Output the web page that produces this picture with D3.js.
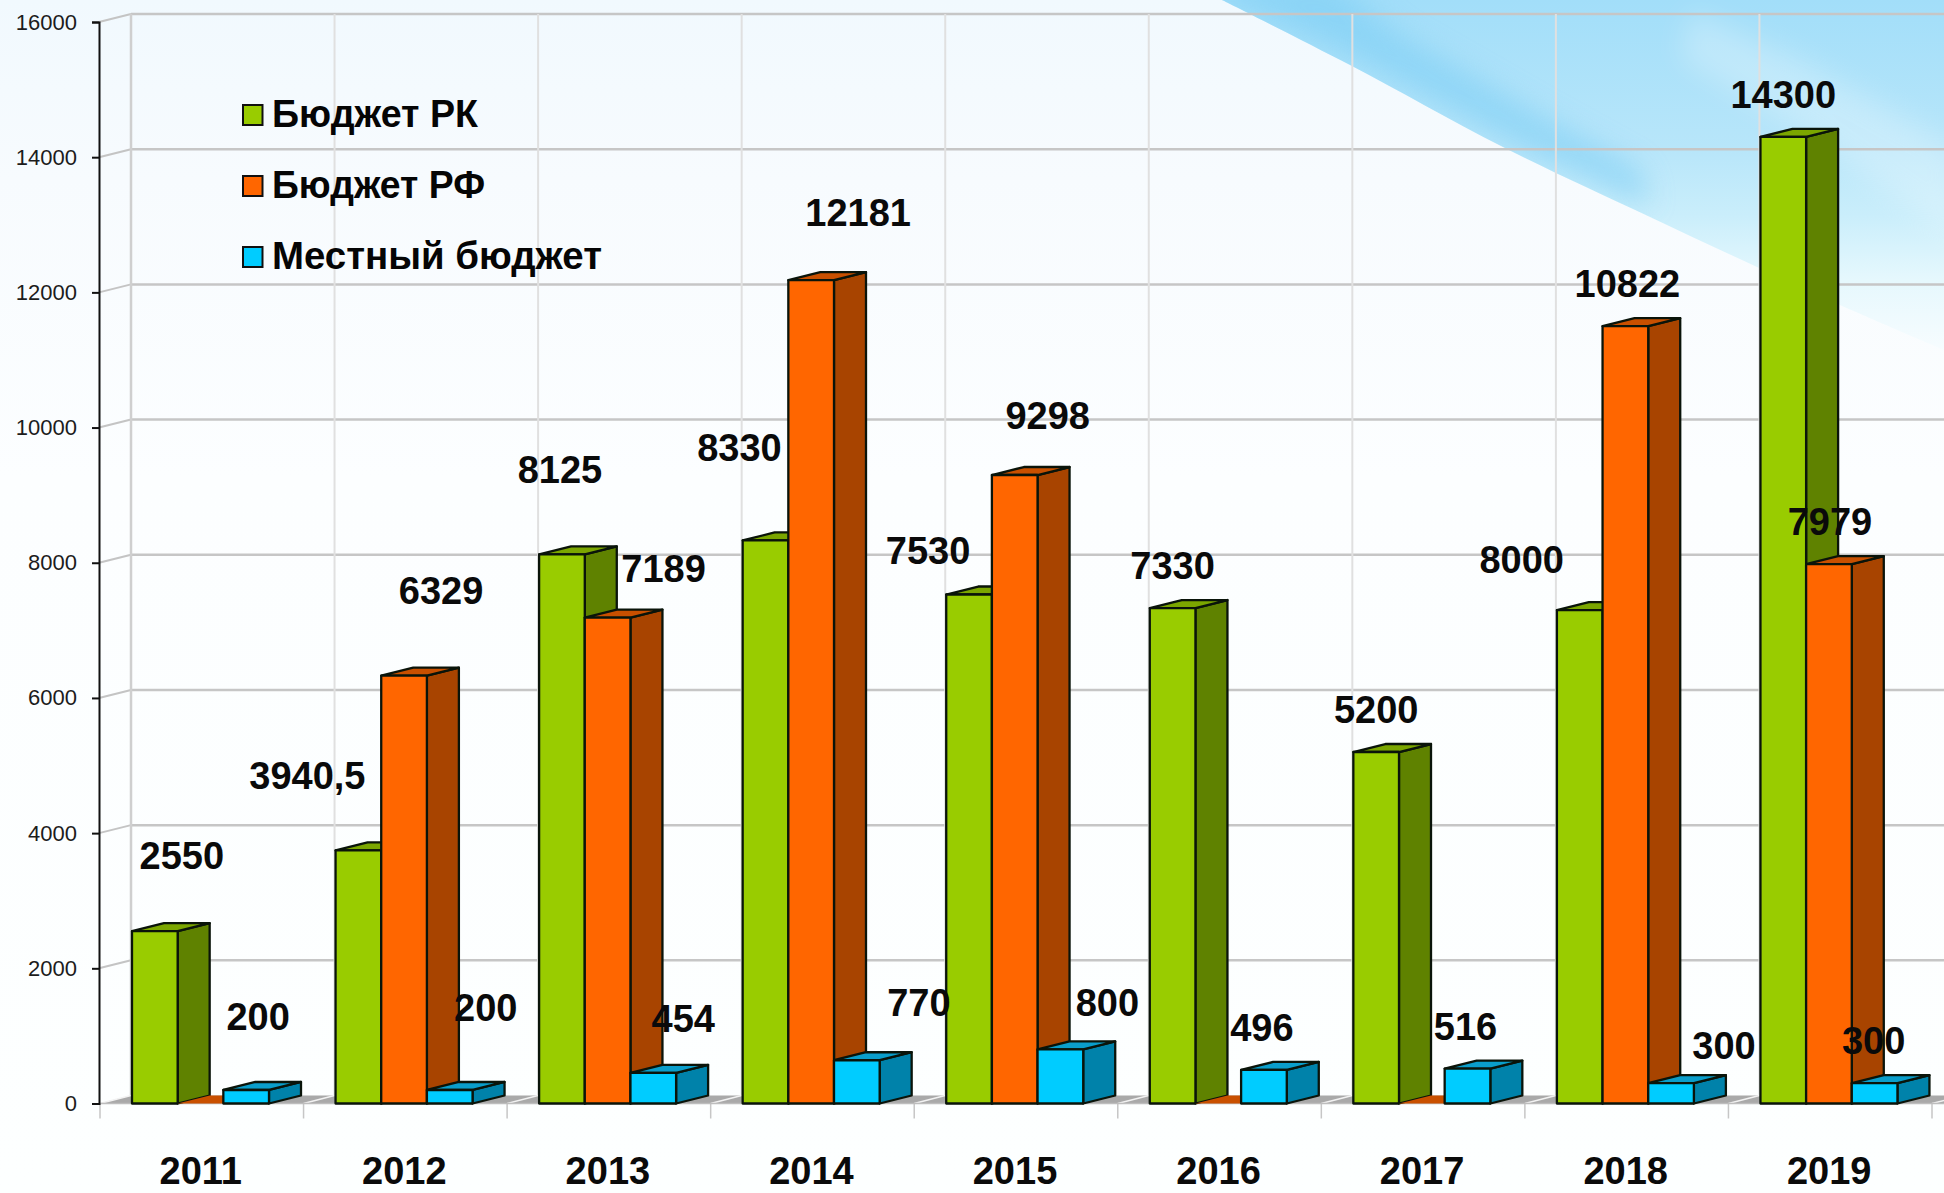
<!DOCTYPE html>
<html>
<head>
<meta charset="utf-8">
<script src="https://cdn.jsdelivr.net/npm/d3@7"></script>
<style>
  html, body { margin: 0; padding: 0; background: #fff; overflow: hidden; }
  svg { display: block; }
  svg text { font-family: "Liberation Sans", Arial, sans-serif; }
</style>
</head>
<body>
<svg id="chart" role="img" aria-label="Бюджет по годам"></svg>
<script>
const years = ["2011", "2012", "2013", "2014", "2015", "2016", "2017", "2018", "2019"];
const yTicks = [0, 2000, 4000, 6000, 8000, 10000, 12000, 14000, 16000];
const seriesNames = ["Бюджет РК", "Бюджет РФ", "Местный бюджет"];

// bar heights as drawn (a few differ from their printed labels)
const budgetRK = [2550, 3744, 8125, 8330, 7530, 7330, 5200, 7300, 14300];
const budgetRF = [0, 6329, 7189, 12181, 9298, 0, 0, 11500, 7979];
const budgetLocal = [200, 200, 454, 640, 800, 496, 516, 300, 300];

// printed labels
const labelsRK = ["2550", "3940,5", "8125", "8330", "7530", "7330", "5200", "8000", "14300"];
const labelsRF = ["", "6329", "7189", "12181", "9298", "", "", "10822", "7979"];
const labelsLocal = ["200", "200", "454", "770", "800", "496", "516", "300", "300"];

const W = 1944, H = 1193;
const axisX = 99, plotRight = 1932, baseY = 1103.5, topY = 22;
const depthX = 32, depthY = 8;

// label nudges from the top centre of each bar
const nudgeRK = [[27,-76],[-51,-75],[-2,-85],[-26,-93],[-41,-44],[0,-43],[0,-43],[-58,-51],[0,-43]];
const nudgeRF = [[0,0],[37,-85],[56,-49],[47,-68],[33,-60],[0,0],[0,0],[2,-43],[1,-43]];
const nudgeLocal = [[12,-74],[36,-83],[30,-54],[62,-58],[47,-47],[-2,-43],[-2,-42],[53,-38],[-1,-43]];

const seriesStyle = [
  { front: "#99cc00", side: "#5f8200", top: "#7ba600", values: budgetRK, labels: labelsRK, nudge: nudgeRK },
  { front: "#ff6600", side: "#a84400", top: "#c95000", values: budgetRF, labels: labelsRF, nudge: nudgeRF },
  { front: "#00ccff", side: "#0082aa", top: "#0a9ecb", values: budgetLocal, labels: labelsLocal, nudge: nudgeLocal },
];

const svg = d3.select("#chart").attr("width", W).attr("height", H).attr("viewBox", "0 0 " + W + " " + H);

const defs = svg.append("defs");
const bg = defs.append("linearGradient").attr("id", "bg").attr("x1", 0).attr("y1", 0).attr("x2", 0).attr("y2", 1);
bg.append("stop").attr("offset", 0).attr("stop-color", "#f1f9fe");
bg.append("stop").attr("offset", 0.15).attr("stop-color", "#f7fbfe");
bg.append("stop").attr("offset", 0.4).attr("stop-color", "#fcfeff");
bg.append("stop").attr("offset", 1).attr("stop-color", "#fdffff");

const swoosh = defs.append("linearGradient").attr("id", "swoosh")
  .attr("gradientUnits", "userSpaceOnUse")
  .attr("x1", 0).attr("y1", 0).attr("x2", 0).attr("y2", 360);
swoosh.append("stop").attr("offset", 0).attr("stop-color", "#a2def9");
swoosh.append("stop").attr("offset", 0.42).attr("stop-color", "#b8e6fa");
swoosh.append("stop").attr("offset", 0.6).attr("stop-color", "#caeefb");
swoosh.append("stop").attr("offset", 0.78).attr("stop-color", "#e6f8fd");
swoosh.append("stop").attr("offset", 1).attr("stop-color", "#f9fdff");

defs.append("filter").attr("id", "soft").attr("x", "-20%").attr("y", "-20%").attr("width", "140%").attr("height", "140%")
  .append("feGaussianBlur").attr("stdDeviation", 14);

svg.append("rect").attr("width", W).attr("height", H).attr("fill", "url(#bg)");

// background swoosh, top right
const smooth = d3.line().curve(d3.curveCatmullRom);
const swooshEdge = [[1222, 0], [1350, 65], [1503, 147], [1650, 217], [1757, 267], [1840, 305], [1944, 350]];
const swooshPath = smooth(swooshEdge) + "L1944,0Z";
defs.append("clipPath").attr("id", "swooshClip").append("path").attr("d", swooshPath);
svg.append("path").attr("d", swooshPath).attr("fill", "url(#swoosh)");

const swooshBands = svg.append("g").attr("clip-path", "url(#swooshClip)");
swooshBands.append("path")
  .attr("d", "M1190,-20L1350,55L1503,137L1650,207L1640,170L1540,115L1400,35L1330,-20Z")
  .attr("fill", "#7ccdf4").attr("opacity", 0.6).attr("filter", "url(#soft)");
swooshBands.append("path")
  .attr("d", "M1690,10L1800,60L1960,150L1960,240L1800,130L1680,60Z")
  .attr("fill", "#ffffff").attr("opacity", 0.25).attr("filter", "url(#soft)");

const y = d3.scaleLinear().domain([0, 16000]).range([baseY, topY]);
const x = d3.scaleBand().domain(years).range([100, plotRight]);
const xBar = d3.scaleBand().domain(seriesNames).range([depthX, depthX + 137]);

// floor
const floorPts = [[axisX, baseY], [axisX + depthX, baseY - depthY], [W + 40, baseY - depthY], [W + 40, baseY]];
svg.append("polygon").attr("points", floorPts.join(" ")).attr("fill", "#a9a9a9");

const grid = svg.append("g");
// back wall horizontals and left wall slants
grid.selectAll("line.h").data(yTicks.slice(1)).join("line")
  .attr("class", "h")
  .attr("x1", axisX + depthX).attr("x2", W)
  .attr("y1", d => y(d) - depthY).attr("y2", d => y(d) - depthY)
  .attr("stroke", "#c6c6c6").attr("stroke-width", 2.5);
grid.selectAll("line.s").data(yTicks.slice(1)).join("line")
  .attr("class", "s")
  .attr("x1", axisX).attr("x2", axisX + depthX)
  .attr("y1", d => y(d)).attr("y2", d => y(d) - depthY)
  .attr("stroke", "#c4c4c4").attr("stroke-width", 2);

// back wall verticals
const edges = years.map(d => x(d)).concat([plotRight]);
grid.selectAll("line.v").data(edges).join("line")
  .attr("class", "v")
  .attr("x1", d => d + depthX - 1).attr("x2", d => d + depthX - 1)
  .attr("y1", y(16000) - depthY).attr("y2", baseY - depthY)
  .attr("stroke", (d, i) => i === 0 ? "#cfcfcf" : "#e0e0e0")
  .attr("stroke-width", (d, i) => i === 0 ? 2.5 : 2);

// floor slants and the little category ticks under it
grid.selectAll("line.f").data(edges).join("line")
  .attr("class", "f")
  .attr("x1", d => d).attr("x2", d => d + depthX - 1)
  .attr("y1", baseY).attr("y2", baseY - depthY)
  .attr("stroke", "#f2f2f2").attr("stroke-width", 1.5);
grid.selectAll("line.t").data(edges).join("line")
  .attr("class", "t")
  .attr("x1", d => d).attr("x2", d => d)
  .attr("y1", baseY).attr("y2", baseY + 15)
  .attr("stroke", "#c6c6c6").attr("stroke-width", 1.5);
grid.append("line")
  .attr("x1", axisX).attr("x2", W).attr("y1", baseY).attr("y2", baseY)
  .attr("stroke", "#bdbdbd").attr("stroke-width", 1.5);

// y axis
const yAxis = svg.append("g")
  .attr("transform", "translate(" + axisX + ",0)")
  .call(d3.axisLeft(y).tickValues(yTicks).tickFormat(d3.format("d")).tickSize(7).tickPadding(15));
yAxis.selectAll("path").attr("stroke", "#111").attr("stroke-width", 2);
yAxis.selectAll("line").attr("stroke", "#111").attr("stroke-width", 2);
yAxis.selectAll("text").attr("font-size", 22).attr("fill", "#1c1c1c").attr("font-family", "Liberation Sans");

// x axis labels
const xAxis = svg.append("g")
  .attr("transform", "translate(-1," + baseY + ")")
  .call(d3.axisBottom(x).tickSize(0).tickPadding(54));
xAxis.select("path").remove();
xAxis.selectAll("text")
  .attr("font-size", 38).attr("font-weight", 700).attr("fill", "#0a0a0a")
  .attr("font-family", "Liberation Sans");

// 3d bars
const barWidth = xBar.bandwidth();
const bars = svg.append("g").attr("stroke-linejoin", "round");
years.forEach(function(year, i) {
  seriesStyle.forEach(function(s, j) {
    const v = s.values[i];
    const x0 = x(year) + xBar(seriesNames[j]);
    const x1 = x0 + barWidth;
    const yT = y(v);
    const g = bars.append("g")
      .attr("stroke", v > 0 ? "#0a140a" : "none")
      .attr("stroke-width", 2.3);
    g.append("polygon")
      .attr("points", [[x1, yT], [x1 + depthX, yT - depthY], [x1 + depthX, baseY - depthY], [x1, baseY]].join(" "))
      .attr("fill", s.side);
    g.append("polygon")
      .attr("points", [[x0, yT], [x0 + depthX, yT - depthY], [x1 + depthX, yT - depthY], [x1, yT]].join(" "))
      .attr("fill", s.top);
    g.append("rect")
      .attr("x", x0).attr("y", yT)
      .attr("width", barWidth).attr("height", baseY - yT)
      .attr("fill", s.front);
  });
});

// data labels go on top of everything
const labelLayer = svg.append("g");
seriesStyle.forEach(function(s, j) {
  years.forEach(function(year, i) {
    if (!s.labels[i]) return;
    const cx = x(year) + xBar(seriesNames[j]) + barWidth / 2;
    labelLayer.append("text")
      .attr("x", cx + s.nudge[i][0])
      .attr("y", y(s.values[i]) + s.nudge[i][1])
      .attr("dy", "0.36em")
      .attr("text-anchor", "middle")
      .attr("font-size", 38).attr("font-weight", 700).attr("fill", "#0a0a0a")
      .text(s.labels[i]);
  });
});

// legend
const legendRows = [127, 198, 269];
const legend = svg.append("g");
seriesNames.forEach(function(name, i) {
  legend.append("rect")
    .attr("x", 243).attr("y", legendRows[i] - 22)
    .attr("width", 19.5).attr("height", 20)
    .attr("fill", seriesStyle[i].front)
    .attr("stroke", "#101010").attr("stroke-width", 2);
  legend.append("text")
    .attr("x", 272).attr("y", legendRows[i])
    .attr("font-size", 38).attr("font-weight", 700).attr("fill", "#050505")
    .attr("textLength", [206, 213, 330][i]).attr("lengthAdjust", "spacingAndGlyphs")
    .text(name);
});
</script>
</body>
</html>
